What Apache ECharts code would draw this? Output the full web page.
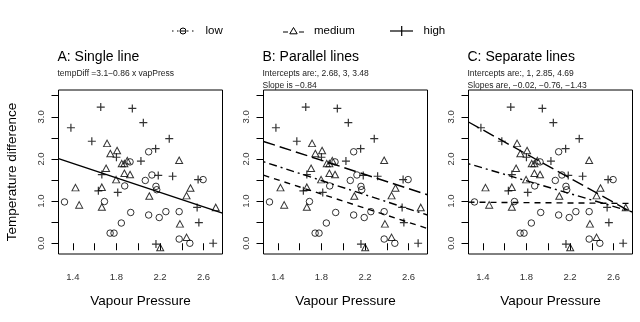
<!DOCTYPE html>
<html><head><meta charset="utf-8">
<script src="https://cdn.jsdelivr.net/npm/echarts@6/dist/echarts.min.js"></script>
<style>html,body{margin:0;padding:0;background:#fff}#c{width:640px;height:322px}</style>
</head><body><div id="c"></div>
<script>
// ---- data ----
const lowPts = [[1.323,0.98],[1.690,0.99],[1.876,1.36],[1.845,0.48],[1.742,0.24],[1.778,0.24],[1.931,0.73],[1.925,1.93],[2.096,2.17],[2.065,1.49],[2.126,1.62],[2.163,1.35],[2.170,1.27],[2.096,0.67],[2.193,0.61],[2.254,0.75],[2.376,0.75],[2.376,0.10],[2.474,0.00],[2.596,1.51]];
const medPts = [[1.424,1.32],[1.458,0.91],[1.666,1.33],[1.666,0.86],[1.705,1.78],[1.714,2.37],[1.744,2.13],[1.806,2.20],[1.797,1.51],[1.849,1.89],[1.873,1.89],[1.900,1.96],[1.873,1.66],[1.925,1.63],[2.102,1.12],[2.376,1.97],[2.480,1.31],[2.444,1.13],[2.383,0.46],[2.444,0.14],[2.202,-0.10],[2.712,0.85]];
const highPts = [[1.382,2.74],[1.656,3.23],[1.946,3.20],[2.047,2.86],[1.574,2.42],[2.285,2.48],[2.160,2.245],[1.800,2.04],[2.025,1.95],[1.666,1.63],[2.184,1.61],[2.316,1.59],[2.550,1.51],[1.634,1.245],[1.812,1.205],[2.541,0.85],[2.557,0.49],[2.163,-0.02],[2.688,0.00]];
const groupNames = ['low','medium','high'];
const singleIntercept = 3.1, singleSlope = -0.86;
const parallelIntercepts = [2.68, 3, 3.48], parallelSlope = -0.84;
const sepIntercepts = [1, 2.85, 4.69], sepSlopes = [-0.02, -0.76, -1.43];
const xTicks = [1.4,1.6,1.8,2.0,2.2,2.4,2.6];
const xLabels = [1.4,1.8,2.2,2.6];
const yTicks = [0,0.5,1,1.5,2,2.5,3,3.5];
const yLabels = [0,1,2,3];
const panelTitles = ['A: Single line','B: Parallel lines','C: Separate lines'];
const panelSubs = ['tempDiff =3.1\u22120.86 x vapPress',
  'Intercepts are:, 2.68, 3, 3.48\nSlope is \u22120.84',
  'Intercepts are:, 1, 2.85, 4.69\nSlopes are, \u22120.02, \u22120.76, \u22121.43'];
const xAxisTitle = 'Vapour Pressure', yAxisTitle = 'Temperature difference';

// ---- layout ----
const X_MIN = 1.268, X_MAX = 2.774, Y_MIN = -0.255, Y_MAX = 3.636;
const FONT = 'Liberation Sans, Arial, Helvetica, sans-serif';
const lefts = [58.5, 263.5, 468.5];
const TOP = 90, W = 164, H = 164;
const PLUS = 'path://M0,5L10,5M5,0L5,10';
const markerStyle = {color:'rgba(0,0,0,0)', borderColor:'#000', borderWidth:1};
const dashes = {low:[6,5], medium:[2,4,8,4], high:[12,5]};

const chart = echarts.init(document.getElementById('c'), null, {renderer:'canvas'});
const grid = [], xAxis = [], yAxis = [], series = [], title = [];
lefts.forEach((l, i) => {
  grid.push({left:l, top:TOP, width:W, height:H, show:true, borderColor:'#000', borderWidth:1, backgroundColor:'rgba(0,0,0,0)'});
  xAxis.push({type:'value', gridIndex:i, min:X_MIN, max:X_MAX,
    axisLine:{show:false}, splitLine:{show:false},
    axisTick:{show:true, customValues:xTicks, length:7, lineStyle:{color:'#000', width:1}},
    axisLabel:{customValues:xLabels, formatter:v=>v.toFixed(1), fontSize:9.5, color:'#333', margin:18, fontFamily:FONT},
    name:xAxisTitle, nameLocation:'middle', nameGap:40,
    nameTextStyle:{fontSize:13.5, color:'#000', fontFamily:FONT}});
  yAxis.push({type:'value', gridIndex:i, min:Y_MIN, max:Y_MAX,
    axisLine:{show:false}, splitLine:{show:false},
    axisTick:{show:true, customValues:yTicks, length:7, lineStyle:{color:'#000', width:1}},
    axisLabel:{customValues:yLabels, formatter:v=>v.toFixed(1), fontSize:9.5, color:'#333', margin:12, rotate:90, fontFamily:FONT},
    name: i===0 ? yAxisTitle : '', nameLocation:'middle', nameGap:39, nameRotate:90,
    nameTextStyle:{fontSize:13.5, color:'#000', fontFamily:FONT}});
  title.push({text:panelTitles[i], subtext:panelSubs[i], left:l-1, top:50, padding:0, itemGap:3,
    textStyle:{fontSize:14, fontWeight:'normal', color:'#000', fontFamily:FONT},
    subtextStyle:{fontSize:8.5, color:'#222', lineHeight:12.5, fontFamily:FONT}});
  series.push({type:'scatter', xAxisIndex:i, yAxisIndex:i, data:lowPts, symbol:'circle', symbolSize:6.5, itemStyle:markerStyle, silent:true, z:3});
  series.push({type:'scatter', xAxisIndex:i, yAxisIndex:i, data:medPts, symbol:'triangle', symbolSize:[7,6.5], itemStyle:markerStyle, silent:true, z:3});
  series.push({type:'scatter', xAxisIndex:i, yAxisIndex:i, data:highPts, symbol:PLUS, symbolSize:8, itemStyle:Object.assign({}, markerStyle, {borderWidth:1.2}), silent:true, z:3});
});
function lineSeries(gi, a, b, dash) {
  return {type:'line', xAxisIndex:gi, yAxisIndex:gi, data:[[X_MIN, a + b*X_MIN],[X_MAX, a + b*X_MAX]],
    symbol:'none', silent:true, z:4, lineStyle:{color:'#000', width:1.4, type:dash}};
}
series.push(lineSeries(0, singleIntercept, singleSlope, 'solid'));
groupNames.forEach((g, k) => {
  series.push(lineSeries(1, parallelIntercepts[k], parallelSlope, dashes[g]));
  series.push(lineSeries(2, sepIntercepts[k], sepSlopes[k], dashes[g]));
});

// legend (drawn as graphic so the R-style keys can be reproduced)
const LY = 31;
const legendTxt = {fontSize:11.5, fill:'#000', fontFamily:FONT, verticalAlign:'middle'};
const graphic = [
  {type:'line', shape:{x1:172, y1:LY, x2:194, y2:LY}, style:{stroke:'#000', lineWidth:1, lineDash:[1.5,3.5]}},
  {type:'circle', shape:{cx:183, cy:LY, r:3}, style:{stroke:'#000', fill:'#fff', lineWidth:1}},
  {type:'line', shape:{x1:180, y1:LY, x2:186, y2:LY}, style:{stroke:'#000', lineWidth:1}},
  {type:'text', x:205.5, y:LY, style:Object.assign({text:groupNames[0]}, legendTxt)},
  {type:'line', shape:{x1:283, y1:LY+1, x2:288, y2:LY+1}, style:{stroke:'#000', lineWidth:1}},
  {type:'line', shape:{x1:299, y1:LY+1, x2:304, y2:LY+1}, style:{stroke:'#000', lineWidth:1}},
  {type:'polygon', shape:{points:[[293.5,27.5],[289.8,33.8],[297.2,33.8]]}, style:{stroke:'#000', fill:'#fff', lineWidth:1}},
  {type:'text', x:314, y:LY, style:Object.assign({text:groupNames[1]}, legendTxt)},
  {type:'line', shape:{x1:390, y1:LY, x2:413, y2:LY}, style:{stroke:'#000', lineWidth:1.2}},
  {type:'line', shape:{x1:401.7, y1:LY-5, x2:401.7, y2:LY+5}, style:{stroke:'#000', lineWidth:1.2}},
  {type:'text', x:423.5, y:LY, style:Object.assign({text:groupNames[2]}, legendTxt)}
];

chart.setOption({animation:false, backgroundColor:'#fff', title, grid, xAxis, yAxis, series, graphic});
</script>
</body></html>
